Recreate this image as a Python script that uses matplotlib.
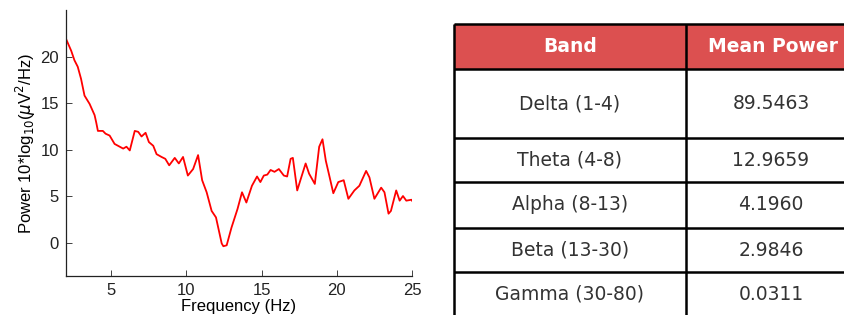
import numpy as np
import matplotlib
matplotlib.use("Agg")
import matplotlib.pyplot as plt
from matplotlib.patches import Rectangle

# spectre (Hz, dB)
freq = [2.0, 2.35, 2.56, 2.78, 3.0, 3.23, 3.57, 3.9, 4.01, 4.12, 4.45, 4.63, 4.9,
        5.23, 5.8, 6.02, 6.24, 6.57, 6.8, 7.02, 7.29, 7.51, 7.8, 8.02, 8.35, 8.6,
        8.86, 9.23, 9.5, 9.78, 10.1, 10.45, 10.78, 11.05, 11.35, 11.68, 11.97,
        12.35, 12.46, 12.68, 13.0, 13.4, 13.7, 13.99, 14.36, 14.7, 14.92, 15.15,
        15.38, 15.6, 15.86, 16.15, 16.48, 16.7, 16.93, 17.08, 17.37, 17.6, 17.93,
        18.16, 18.54, 18.83, 19.05, 19.27, 19.5, 19.77, 20.1, 20.46, 20.77, 21.17,
        21.5, 21.95, 22.17, 22.5, 22.95, 23.17, 23.44, 23.6, 23.95, 24.18, 24.4,
        24.62, 24.96, 25.0]
power = [21.9, 20.6, 19.6, 18.9, 17.6, 15.8, 14.9, 13.7, 12.9, 12.0, 12.0, 11.7, 11.5,
         10.6, 10.1, 10.3, 9.9, 12.0, 11.9, 11.4, 11.8, 10.8, 10.4, 9.5, 9.2, 9.0,
         8.3, 9.1, 8.5, 9.2, 7.2, 7.9, 9.4, 6.7, 5.4, 3.4, 2.7,
         -0.1, -0.4, -0.3, 1.6, 3.6, 5.4, 4.3, 6.1, 7.1, 6.5, 7.2,
         7.3, 7.8, 7.6, 7.9, 7.2, 7.1, 9.0, 9.1, 5.6, 6.8, 8.5,
         7.4, 6.3, 10.3, 11.1, 8.8, 7.2, 5.3, 6.5, 6.7, 4.7, 5.6,
         6.1, 7.7, 7.0, 4.7, 5.9, 5.4, 3.1, 3.4, 5.6, 4.5, 5.0,
         4.5, 4.6, 4.5]

# tableau des bandes
bandes = ["Delta (1-4)", "Theta (4-8)", "Alpha (8-13)", "Beta (13-30)", "Gamma (30-80)"]
puissance_moy = ["89.5463", "12.9659", "4.1960", "2.9846", "0.0311"]
entetes = ["Band", "Mean Power"]

plt.rcParams['font.family'] = ['Liberation Sans', 'DejaVu Sans']

fig = plt.figure(figsize=(8.45, 3.15), dpi=100)

# Courbe
W, H = 845, 315
ax = fig.add_axes([66 / W, 1 - 276 / H, (412 - 66) / W, (276 - 10) / H])
ax.plot(freq, power, color='red', lw=1.3)
ax.set_xlim(2, 25)
ax.set_ylim(-3.6, 25)
ax.set_xticks([5, 10, 15, 20, 25])
ax.set_yticks([0, 5, 10, 15, 20])
ax.spines['top'].set_visible(False)
ax.spines['right'].set_visible(False)
ax.tick_params(direction='in', length=4, labelsize=12, colors='#222222', width=0.6, pad=5)
for s in ['left', 'bottom']:
    ax.spines[s].set_color('#222222')
    ax.spines[s].set_linewidth(0.9)
ax.set_xlabel("Frequency (Hz)", fontsize=12, labelpad=1)
ax.set_ylabel(r"Power 10*log$_{10}$($\mu$V$^2$/Hz)", fontsize=12, labelpad=2)

# Tableau (coordonnées en pixels)
tab = fig.add_axes([0, 0, 1, 1])
tab.set_xlim(0, W)
tab.set_ylim(H, 0)
tab.axis('off')

x0, xc, x1 = 454, 686, 860
lignes = [24, 69, 138, 182, 228, 272, 317]
rouge = '#DC5050'
tab.add_patch(Rectangle((x0, lignes[0]), x1 - x0, lignes[1] - lignes[0],
                        facecolor=rouge, edgecolor='none'))
for y in lignes:
    tab.plot([x0, x1], [y, y], color='black', lw=1.8, solid_capstyle='butt')
for x in [x0, xc, x1]:
    tab.plot([x, x], [lignes[0], lignes[-1]], color='black', lw=1.8, solid_capstyle='butt')

cx = [(x0 + xc) / 2, (xc + x1) / 2]
ymid = (lignes[0] + lignes[1]) / 2
for c, t in zip(cx, entetes):
    tab.text(c, ymid, t, color='white', fontsize=13.5, fontweight='bold',
             ha='center', va='center', family='DejaVu Sans')
for i, (b, v) in enumerate(zip(bandes, puissance_moy)):
    ym = (lignes[i + 1] + lignes[i + 2]) / 2
    tab.text(cx[0], ym, b, color='#333333', fontsize=13.5, ha='center', va='center',
             family='DejaVu Sans')
    tab.text(cx[1] - 2, ym, v, color='#333333', fontsize=13.5, ha='center', va='center',
             family='DejaVu Sans')

fig.savefig("out.png", dpi=100)
